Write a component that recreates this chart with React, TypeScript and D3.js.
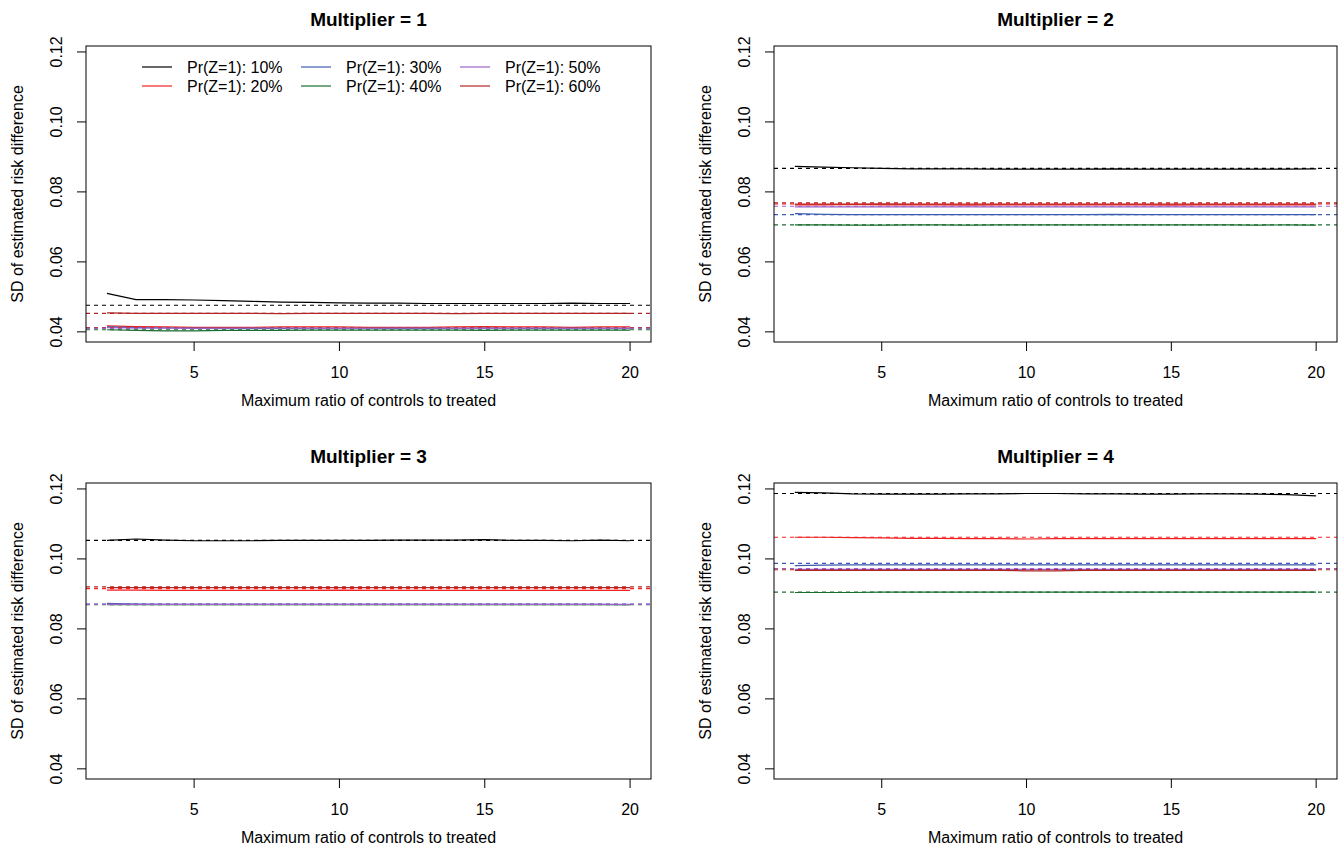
import React from "react";
import * as d3 from "d3";

// x values: maximum ratio of controls to treated
const ratios = [2, 3, 4, 5, 6, 7, 8, 9, 10, 11, 12, 13, 14, 15, 16, 17, 18, 19, 20];
const xTicks = [5, 10, 15, 20];
const yTicks = [0.04, 0.06, 0.08, 0.1, 0.12];
const xLimits = [1.28, 20.72];
const yLimits = [0.0371, 0.1217];

const probLabels = ["Pr(Z=1): 10%", "Pr(Z=1): 20%", "Pr(Z=1): 30%", "Pr(Z=1): 40%", "Pr(Z=1): 50%", "Pr(Z=1): 60%"];
const probColors = ["#000000", "#f02020", "#3b5bb0", "#1a6e30", "#9a62c8", "#b02525"];

// Multiplier = 1
const m1p10 = [0.0510, 0.0492, 0.0492, 0.0491, 0.0489, 0.0487, 0.0485, 0.0484, 0.0483, 0.0482, 0.0482, 0.0481, 0.0481, 0.0481, 0.0481, 0.0481, 0.0482, 0.0481, 0.0481];
const m1p20 = [0.0417, 0.0415, 0.0414, 0.0413, 0.0413, 0.0413, 0.0414, 0.0414, 0.0414, 0.0413, 0.0413, 0.0413, 0.0414, 0.0415, 0.0414, 0.0414, 0.0413, 0.0414, 0.0414];
const m1p30 = [0.0414, 0.0412, 0.0411, 0.0411, 0.0410, 0.0410, 0.0410, 0.0410, 0.0410, 0.0410, 0.0410, 0.0410, 0.0410, 0.0411, 0.0410, 0.0410, 0.0410, 0.0410, 0.0410];
const m1p40 = [0.0406, 0.0404, 0.0403, 0.0403, 0.0404, 0.0404, 0.0404, 0.0405, 0.0405, 0.0405, 0.0405, 0.0405, 0.0405, 0.0404, 0.0405, 0.0405, 0.0405, 0.0405, 0.0405];
const m1p50 = [0.0412, 0.0411, 0.0411, 0.0410, 0.0410, 0.0411, 0.0411, 0.0410, 0.0410, 0.0410, 0.0411, 0.0411, 0.0410, 0.0410, 0.0410, 0.0411, 0.0410, 0.0410, 0.0410];
const m1p60 = [0.0454, 0.0453, 0.0453, 0.0453, 0.0453, 0.0453, 0.0452, 0.0453, 0.0453, 0.0453, 0.0453, 0.0453, 0.0452, 0.0453, 0.0453, 0.0453, 0.0453, 0.0453, 0.0453];
const m1Ref = [0.0476, 0.0412, 0.0410, 0.0406, 0.0410, 0.0453];

// Multiplier = 2
const m2p10 = [0.0873, 0.0871, 0.0869, 0.0867, 0.0866, 0.0866, 0.0866, 0.0865, 0.0865, 0.0865, 0.0865, 0.0866, 0.0865, 0.0865, 0.0865, 0.0865, 0.0865, 0.0865, 0.0866];
const m2p20 = [0.0763, 0.0763, 0.0764, 0.0763, 0.0763, 0.0763, 0.0762, 0.0763, 0.0763, 0.0763, 0.0763, 0.0763, 0.0763, 0.0762, 0.0763, 0.0763, 0.0763, 0.0763, 0.0763];
const m2p30 = [0.0738, 0.0736, 0.0735, 0.0735, 0.0735, 0.0735, 0.0735, 0.0735, 0.0735, 0.0735, 0.0735, 0.0736, 0.0735, 0.0735, 0.0735, 0.0735, 0.0735, 0.0735, 0.0735];
const m2p40 = [0.0706, 0.0706, 0.0705, 0.0705, 0.0706, 0.0706, 0.0705, 0.0706, 0.0706, 0.0706, 0.0706, 0.0706, 0.0706, 0.0706, 0.0706, 0.0706, 0.0705, 0.0706, 0.0705];
const m2p50 = [0.0757, 0.0757, 0.0757, 0.0757, 0.0757, 0.0757, 0.0757, 0.0757, 0.0757, 0.0757, 0.0757, 0.0757, 0.0757, 0.0757, 0.0757, 0.0757, 0.0757, 0.0757, 0.0757];
const m2p60 = [0.0765, 0.0765, 0.0765, 0.0766, 0.0765, 0.0765, 0.0765, 0.0765, 0.0765, 0.0765, 0.0765, 0.0765, 0.0765, 0.0765, 0.0765, 0.0765, 0.0765, 0.0765, 0.0765];
const m2Ref = [0.0867, 0.0766, 0.0735, 0.0706, 0.0759, 0.0769];

// Multiplier = 3
const m3p10 = [0.1053, 0.1057, 0.1054, 0.1052, 0.1052, 0.1052, 0.1053, 0.1053, 0.1053, 0.1053, 0.1054, 0.1054, 0.1054, 0.1055, 0.1053, 0.1053, 0.1052, 0.1054, 0.1052];
const m3p20 = [0.0911, 0.0911, 0.0910, 0.0910, 0.0910, 0.0910, 0.0910, 0.0910, 0.0911, 0.0910, 0.0910, 0.0910, 0.0910, 0.0910, 0.0910, 0.0910, 0.0910, 0.0910, 0.0910];
const m3p30 = [0.0873, 0.0871, 0.0870, 0.0870, 0.0870, 0.0870, 0.0870, 0.0870, 0.0870, 0.0870, 0.0870, 0.0870, 0.0870, 0.0870, 0.0870, 0.0870, 0.0870, 0.0870, 0.0869];
const m3p40 = [0.0869, 0.0869, 0.0869, 0.0869, 0.0869, 0.0869, 0.0869, 0.0869, 0.0869, 0.0869, 0.0869, 0.0869, 0.0869, 0.0869, 0.0869, 0.0869, 0.0869, 0.0869, 0.0869];
const m3p50 = [0.0871, 0.0870, 0.0870, 0.0870, 0.0870, 0.0870, 0.0870, 0.0870, 0.0870, 0.0870, 0.0870, 0.0870, 0.0870, 0.0870, 0.0870, 0.0870, 0.0870, 0.0870, 0.0870];
const m3p60 = [0.0918, 0.0918, 0.0918, 0.0918, 0.0918, 0.0918, 0.0918, 0.0918, 0.0918, 0.0918, 0.0918, 0.0918, 0.0918, 0.0918, 0.0918, 0.0918, 0.0918, 0.0918, 0.0918];
const m3Ref = [0.1053, 0.0915, 0.0871, 0.0869, 0.0870, 0.0920];

// Multiplier = 4
const m4p10 = [0.1190, 0.1189, 0.1186, 0.1185, 0.1185, 0.1185, 0.1186, 0.1186, 0.1187, 0.1187, 0.1186, 0.1186, 0.1185, 0.1185, 0.1186, 0.1186, 0.1185, 0.1184, 0.1180];
const m4p20 = [0.1062, 0.1062, 0.1061, 0.1060, 0.1059, 0.1059, 0.1058, 0.1058, 0.1057, 0.1058, 0.1058, 0.1058, 0.1058, 0.1058, 0.1058, 0.1058, 0.1058, 0.1058, 0.1058];
const m4p30 = [0.0981, 0.0982, 0.0983, 0.0983, 0.0983, 0.0983, 0.0983, 0.0983, 0.0983, 0.0983, 0.0983, 0.0983, 0.0983, 0.0983, 0.0983, 0.0983, 0.0983, 0.0983, 0.0983];
const m4p40 = [0.0904, 0.0904, 0.0904, 0.0905, 0.0905, 0.0905, 0.0905, 0.0905, 0.0905, 0.0905, 0.0905, 0.0905, 0.0905, 0.0905, 0.0905, 0.0905, 0.0905, 0.0905, 0.0905];
const m4p50 = [0.0970, 0.0970, 0.0970, 0.0970, 0.0970, 0.0970, 0.0970, 0.0970, 0.0970, 0.0970, 0.0970, 0.0970, 0.0970, 0.0970, 0.0970, 0.0970, 0.0970, 0.0970, 0.0970];
const m4p60 = [0.0967, 0.0967, 0.0967, 0.0967, 0.0967, 0.0967, 0.0967, 0.0967, 0.0966, 0.0966, 0.0967, 0.0967, 0.0967, 0.0967, 0.0967, 0.0967, 0.0967, 0.0967, 0.0967];
const m4Ref = [0.1187, 0.1062, 0.0987, 0.0905, 0.0972, 0.0969];

const panels = [
  {title: "Multiplier = 1", series: [m1p10, m1p20, m1p30, m1p40, m1p50, m1p60], refs: m1Ref, legend: true},
  {title: "Multiplier = 2", series: [m2p10, m2p20, m2p30, m2p40, m2p50, m2p60], refs: m2Ref, legend: false},
  {title: "Multiplier = 3", series: [m3p10, m3p20, m3p30, m3p40, m3p50, m3p60], refs: m3Ref, legend: false},
  {title: "Multiplier = 4", series: [m4p10, m4p20, m4p30, m4p40, m4p50, m4p60], refs: m4Ref, legend: false},
];

const width = 1344;
const height = 848;
const colLeft = [86, 774];
const colRight = [651, 1337];
const rowTop = [46, 483];
const boxHeight = 296;
const font = "'Liberation Sans', Arial, Helvetica, sans-serif";

function Panel({panel, col, row, idx}) {
  const left = colLeft[col];
  const right = colRight[col];
  const top = rowTop[row];
  const bottom = top + boxHeight;
  const cx = (left + right) / 2;
  const cy = (top + bottom) / 2;

  const x = d3.scaleLinear().domain(xLimits).range([left, right]);
  const y = d3.scaleLinear().domain(yLimits).range([bottom, top]);
  const line = d3.line<number>()
    .x((d, i) => x(ratios[i]))
    .y(d => y(d));
  const clipId = `clip-${idx}`;

  return (
    <g>
      <clipPath id={clipId}>
        <rect x={left} y={top} width={right - left} height={boxHeight}/>
      </clipPath>
      <text x={cx} y={top - 20} textAnchor="middle" fontWeight="bold" fontSize={19}>{panel.title}</text>

      <g clipPath={`url(#${clipId})`} fill="none" strokeWidth={1.2}>
        {panel.series.map((s, i) => (
          <path key={"s" + i} d={line(s)} stroke={probColors[i]}/>
        ))}
        {panel.refs.map((r, i) => (
          <line key={"r" + i} x1={left} x2={right} y1={y(r)} y2={y(r)}
            stroke={probColors[i]} strokeDasharray="4,4"/>
        ))}
      </g>

      {/* box */}
      <rect x={left} y={top} width={right - left} height={boxHeight} fill="none" stroke="#000" strokeWidth={1}/>

      {/* x axis */}
      {xTicks.map(t => (
        <g key={"xt" + t}>
          <line x1={x(t)} x2={x(t)} y1={bottom} y2={bottom + 9} stroke="#000"/>
          <text x={x(t)} y={bottom + 36} textAnchor="middle" fontSize={16}>{t}</text>
        </g>
      ))}
      <text x={cx} y={bottom + 64} textAnchor="middle" fontSize={16}>Maximum ratio of controls to treated</text>

      {/* y axis */}
      {yTicks.map(t => (
        <g key={"yt" + t}>
          <line x1={left - 9} x2={left} y1={y(t)} y2={y(t)} stroke="#000"/>
          <text transform={`translate(${left - 30},${y(t)}) rotate(-90)`} textAnchor="middle" dy="0.35em" fontSize={16}>
            {d3.format(".2f")(t)}
          </text>
        </g>
      ))}
      <text transform={`translate(${left - 69},${cy}) rotate(-90)`} textAnchor="middle" dy="0.35em" fontSize={16}>
        SD of estimated risk difference
      </text>

      {panel.legend && (
        <g>
          {probLabels.map((lab, i) => {
            const c = Math.floor(i / 2);
            const r = i % 2;
            const lx = left + 56 + c * 159;
            const ly = top + 21 + r * 19;
            return (
              <g key={lab}>
                <line x1={lx} x2={lx + 30} y1={ly} y2={ly} stroke={probColors[i]} strokeWidth={1.2}/>
                <text x={lx + 45} y={ly} dy="0.35em" fontSize={16}>{lab}</text>
              </g>
            );
          })}
        </g>
      )}
    </g>
  );
}

export default function App() {
  return (
    <div style={{position: "absolute", left: 0, top: 0}}>
      <svg width={width} height={height} style={{display: "block", background: "#fff", fontFamily: font}}>
        <rect width={width} height={height} fill="#fff"/>
        {panels.map((p, i) => (
          <Panel key={p.title} panel={p} col={i % 2} row={Math.floor(i / 2)} idx={i}/>
        ))}
      </svg>
    </div>
  );
}
